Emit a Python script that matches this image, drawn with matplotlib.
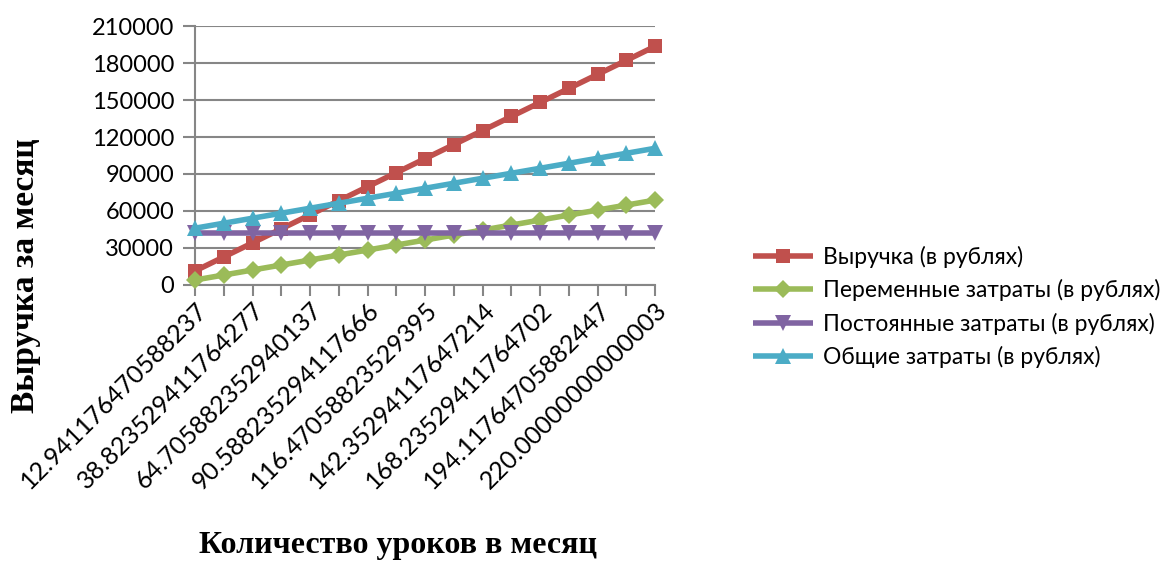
import matplotlib
matplotlib.use("Agg")
import matplotlib.pyplot as plt
import matplotlib.transforms as mtransforms

# Lessons per month (category labels shown on the axis, every second one)
x_labels = [
    "12.941176470588237", "38.823529411764277", "64.705882352940137",
    "90.588235294117666", "116.47058823529395", "142.35294117647214",
    "168.23529411764702", "194.11764705882447", "220.00000000000003",
]

revenue = [11388, 22776, 34165, 45553, 56941, 68329, 79718, 91106, 102494,
           113882, 125271, 136659, 148047, 159435, 170824, 182212, 193600]
variable_costs = [4051, 8101, 12152, 16202, 20253, 24304, 28354, 32405, 36455,
                  40506, 44557, 48607, 52658, 56708, 60759, 64810, 68860]
fixed_costs = [42000] * 17
total_costs = [46051, 50101, 54152, 58202, 62253, 66304, 70354, 74405, 78455,
               82506, 86557, 90607, 94658, 98708, 102759, 106810, 110860]

series_names = [
    "Выручка (в рублях)",
    "Переменные затраты (в рублях)",
    "Постоянные затраты (в рублях)",
    "Общие затраты (в рублях)",
]
colors = ["#C0504D", "#9BBB59", "#8064A2", "#4BACC6"]
markers = ["s", "D", "v", "^"]
msizes = [10.5, 9, 11, 11]

label_font = "Lato"
title_font = "Liberation Serif"

fig = plt.figure(figsize=(11.68, 5.63), dpi=100)
ax = fig.add_axes([0.167, 0.4938, 0.394, 0.46])

positions = list(range(len(revenue)))
for vals, name, c, m, ms in zip(
        [revenue, variable_costs, fixed_costs, total_costs],
        series_names, colors, markers, msizes):
    ax.plot(positions, vals, color=c, lw=4, marker=m, markersize=ms,
            markeredgewidth=0, label=name, solid_capstyle="butt",
            clip_on=False, zorder=3)

grid_c = "#868686"
ax.set_ylim(0, 210000)
ax.set_yticks(range(0, 210001, 30000))
ax.set_xlim(0, len(revenue) - 1)
ax.set_xticks(positions)
tick_texts = []
for i in positions:
    tick_texts.append(x_labels[i // 2] if i % 2 == 0 else "")
ax.set_xticklabels(tick_texts, rotation=45, ha="right", va="top",
                   rotation_mode="anchor", fontfamily=label_font, fontsize=18)
shift = mtransforms.ScaledTranslation(-6 / 100, 0, fig.dpi_scale_trans)
for lab in ax.get_xticklabels():
    lab.set_transform(lab.get_transform() + shift)
for lab in ax.get_yticklabels():
    lab.set_fontfamily(label_font)
    lab.set_fontsize(17)

ax.yaxis.grid(True, color=grid_c, lw=1.5)
ax.set_axisbelow(True)
for side in ["top", "right"]:
    ax.spines[side].set_visible(False)
for side in ["left", "bottom"]:
    ax.spines[side].set_color(grid_c)
    ax.spines[side].set_linewidth(1.5)
ax.tick_params(axis="y", direction="out", length=9, width=1.5, color=grid_c,
               pad=6)
ax.tick_params(axis="x", direction="out", length=8, width=1.5, color=grid_c,
               pad=1.5)

fig.text(0.022, 0.51, "Выручка за месяц", rotation=90, ha="center",
         va="center", fontfamily=title_font, fontweight="bold", fontsize=24)
fig.text(0.341, 0.005, "Количество уроков в месяц", ha="center",
         va="bottom", fontfamily=title_font, fontweight="bold", fontsize=23)

leg = fig.legend(loc="center left", bbox_to_anchor=(0.637, 0.455),
                 frameon=False, prop={"family": label_font, "size": 16.5},
                 handlelength=2.6, handletextpad=0.45, labelspacing=0.5,
                 borderaxespad=0)

fig.savefig("out.png", dpi=100)
